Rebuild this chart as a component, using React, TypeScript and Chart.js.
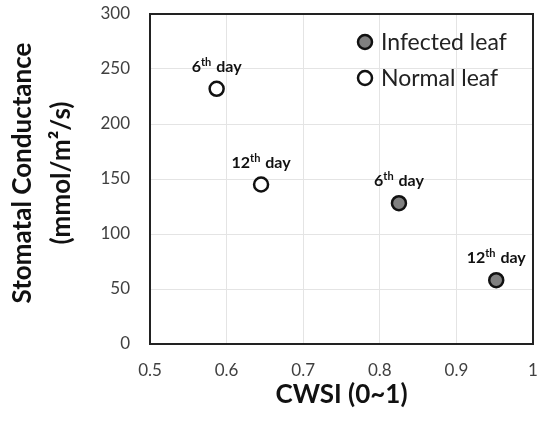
import React, { useEffect, useRef } from 'react';
import { Chart, registerables } from 'chart.js';
Chart.register(...registerables);

const seriesNames = ['Infected leaf', 'Normal leaf'];
const infectedCWSI = [0.825, 0.952];
const infectedConductance = [128, 58];
const normalCWSI = [0.587, 0.645];
const normalConductance = [232, 145];
const dayNumbers = ['6', '12'];
const xTickValues = [0.5, 0.6, 0.7, 0.8, 0.9, 1];
const xTickLabels = ['0.5', '0.6', '0.7', '0.8', '0.9', '1'];
const yTickValues = [0, 50, 100, 150, 200, 250, 300];
const yTickLabels = ['0', '50', '100', '150', '200', '250', '300'];
const xTitle = 'CWSI (0~1)';
const yTitleLines = ['Stomatal Conductance', '(mmol/m\u00B2/s)'];

const FONT = 'Lato, "Open Sans", sans-serif';

const framePlugin = {
  id: 'frame',
  beforeDatasetsDraw(chart: any) {
    const { ctx, chartArea: a } = chart;
    ctx.save();
    ctx.strokeStyle = '#222';
    ctx.lineWidth = 2;
    ctx.strokeRect(a.left, a.top, a.right - a.left, a.bottom - a.top);
    ctx.restore();
  },
};

const yTitlePlugin = {
  id: 'yTitle',
  afterDraw(chart: any) {
    const { ctx, chartArea: a } = chart;
    ctx.save();
    ctx.fillStyle = '#111';
    ctx.font = `bold 26px ${FONT}`;
    ctx.textAlign = 'center';
    ctx.textBaseline = 'middle';
    const cy = (a.top + a.bottom) / 2 - 6;
    const xs = [23, 62];
    yTitleLines.forEach((t, i) => {
      ctx.save();
      ctx.translate(xs[i], cy);
      ctx.rotate(-Math.PI / 2);
      ctx.fillText(t, 0, 0);
      ctx.restore();
    });
    ctx.restore();
  },
};

const dayLabelPlugin = {
  id: 'dayLabels',
  afterDatasetsDraw(chart: any) {
    const { ctx } = chart;
    ctx.save();
    ctx.fillStyle = '#111';
    ctx.textBaseline = 'alphabetic';
    ctx.textAlign = 'left';
    chart.data.datasets.forEach((ds: any, di: number) => {
      const meta = chart.getDatasetMeta(di);
      meta.data.forEach((pt: any, i: number) => {
        const num = dayNumbers[i];
        const big = `bold 16px ${FONT}`;
        const small = `bold 11px ${FONT}`;
        ctx.font = big;
        const w1 = ctx.measureText(num).width;
        const w3 = ctx.measureText(' day').width;
        ctx.font = small;
        const w2 = ctx.measureText('th').width + 1;
        const total = w1 + w2 + w3;
        let x = pt.x - total / 2;
        const base = pt.y - 17;
        ctx.font = big;
        ctx.fillText(num, x, base);
        x += w1;
        ctx.font = small;
        ctx.fillText('th', x, base - 6);
        x += w2;
        ctx.font = big;
        ctx.fillText(' day', x, base);
      });
    });
    ctx.restore();
  },
};

const legendPlugin = {
  id: 'innerLegend',
  afterDatasetsDraw(chart: any) {
    const { ctx, chartArea: a } = chart;
    ctx.save();
    chart.data.datasets.forEach((ds: any, i: number) => {
      const cx = a.right - 168;
      const cy = a.top + 28 + i * 36;
      ctx.beginPath();
      ctx.arc(cx, cy, 7, 0, Math.PI * 2);
      ctx.fillStyle = ds.backgroundColor;
      ctx.fill();
      ctx.lineWidth = 2.5;
      ctx.strokeStyle = ds.borderColor;
      ctx.stroke();
      ctx.fillStyle = '#222';
      ctx.font = `23px ${FONT}`;
      ctx.textAlign = 'left';
      ctx.textBaseline = 'middle';
      ctx.fillText(ds.label, cx + 16, cy + 1);
    });
    ctx.restore();
  },
};

export default function App() {
  const ref = useRef<HTMLCanvasElement>(null);
  useEffect(() => {
    if (!ref.current) return;
    const chart = new Chart(ref.current, {
      type: 'scatter',
      data: {
        datasets: [
          {
            label: seriesNames[0],
            data: infectedCWSI.map((x, i) => ({ x, y: infectedConductance[i] })),
            backgroundColor: '#808080',
            borderColor: '#111',
            borderWidth: 2.5,
            pointRadius: 7,
          },
          {
            label: seriesNames[1],
            data: normalCWSI.map((x, i) => ({ x, y: normalConductance[i] })),
            backgroundColor: '#ffffff',
            borderColor: '#111',
            borderWidth: 2.5,
            pointRadius: 7,
          },
        ],
      },
      options: {
        responsive: false,
        animation: false,
        layout: { padding: { top: 14, right: 11, left: 0, bottom: 0 } },
        plugins: { legend: { display: false }, tooltip: { enabled: false } },
        scales: {
          x: {
            type: 'linear',
            min: 0.5,
            max: 1,
            afterBuildTicks: (s: any) => {
              s.ticks = xTickValues.map((v) => ({ value: v }));
            },
            afterFit: (s: any) => {
              s.height = 77;
              s.paddingLeft = 0;
              s.paddingRight = 0;
            },
            ticks: {
              callback: (_v: any, i: number) => xTickLabels[i],
              font: { family: FONT, size: 17 },
              color: '#404040',
              padding: 16,
            },
            grid: { color: '#e4e4e4', lineWidth: 1, drawTicks: false },
            border: { display: false },
            title: {
              display: true,
              text: xTitle,
              font: { family: FONT, size: 26, weight: 'bold' },
              color: '#111',
              padding: { top: 0, bottom: 11 },
            },
          },
          y: {
            type: 'linear',
            min: 0,
            max: 300,
            afterBuildTicks: (s: any) => {
              s.ticks = yTickValues.map((v) => ({ value: v }));
            },
            afterFit: (s: any) => {
              s.width = 150;
              s.paddingTop = 0;
              s.paddingBottom = 0;
            },
            ticks: {
              callback: (_v: any, i: number) => yTickLabels[i],
              font: { family: FONT, size: 17 },
              color: '#404040',
              padding: 20,
            },
            grid: { color: '#e4e4e4', lineWidth: 1, drawTicks: false },
            border: { display: false },
          },
        },
      },
      plugins: [framePlugin, dayLabelPlugin, legendPlugin, yTitlePlugin],
    });
    return () => chart.destroy();
  }, []);
  return (
    <div style={{ position: 'fixed', left: 0, top: 0, width: 544, height: 421, background: '#fff' }}>
      <canvas ref={ref} width={544} height={421} />
    </div>
  );
}
